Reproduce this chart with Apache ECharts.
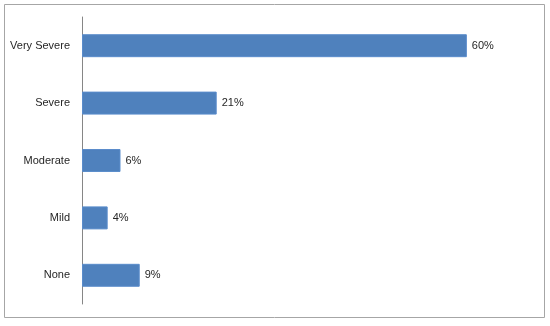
<!DOCTYPE html>
<html><head><meta charset="utf-8">
<script src="https://cdn.jsdelivr.net/npm/echarts@6/dist/echarts.min.js"></script>
<style>html,body{margin:0;padding:0;background:#fff}#c{width:550px;height:326px}</style>
</head><body><div id="c"></div>
<script>
const categories = ['Very Severe', 'Severe', 'Moderate', 'Mild', 'None'];
const values = [60, 21, 6, 4, 9];
const chart = echarts.init(document.getElementById('c'), null, {renderer: 'canvas'});
chart.setOption({
  animation: false,
  backgroundColor: '#fff',
  graphic: [{type: 'rect', shape: {x: 4.5, y: 4.5, width: 540, height: 313}, style: {fill: 'none', stroke: '#a6a6a6', lineWidth: 1}, silent: true}],
  grid: {left: 82, top: 17, width: 449, height: 287, containLabel: false},
  xAxis: {type: 'value', min: 0, max: 70, show: false, splitLine: {show: false}},
  yAxis: {
    type: 'category', data: categories, inverse: true,
    axisLine: {show: true, lineStyle: {color: '#868686', width: 1}},
    axisTick: {show: false},
    axisLabel: {color: '#262626', fontFamily: 'Liberation Sans, Arial', fontSize: 11, margin: 12}
  },
  series: [{
    type: 'bar', data: values, barCategoryGap: '60%',
    itemStyle: {color: '#4f81bd', borderColor: '#5a8ccb', borderWidth: 1},
    label: {show: true, position: 'right', distance: 5, formatter: p => p.value + '%', color: '#262626', fontFamily: 'Liberation Sans, Arial', fontSize: 11}
  }]
});
</script></body></html>
